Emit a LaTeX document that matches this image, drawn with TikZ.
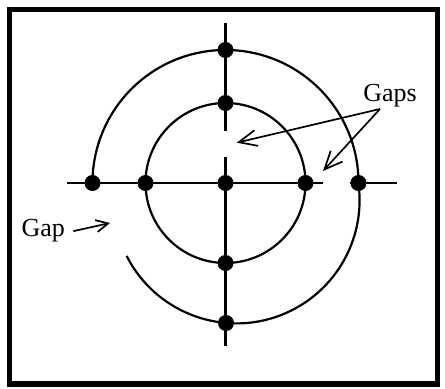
\documentclass[tikz,border=0pt]{standalone}
\usepackage{fontspec}
\setmainfont{Liberation Serif}
\usetikzlibrary{arrows.meta}
\tikzset{
  punto/.style={circle, fill=black, inner sep=0pt, minimum size=8pt},
  eje/.style={line width=1.1pt},
  curva/.style={line width=1.1pt},
  marco/.style={line width=2.75pt},
  flecha/.style={line width=0.85pt, -{Straight Barb[length=9pt,width=8pt]}},
  flechachica/.style={line width=0.85pt, -{Straight Barb[length=6pt,width=6pt]}},
  rotulo/.style={font=\fontsize{13}{15}\selectfont, anchor=base, inner sep=0pt}
}

\begin{document}
\begin{tikzpicture}[x=0.5pt,y=0.5pt]
  \useasboundingbox (0,0) rectangle (445,389);
  \draw [marco] (9.3,5) rectangle (437.7,379.5);
  % ejes, con sus cortes
  \coordinate (arr) at (225.5,366);
  \coordinate (corte1) at (225.5,258);
  \coordinate (corte2) at (225.5,232);
  \coordinate (aba) at (225.5,43);
  \coordinate (izq) at (67,206);
  \coordinate (corte3) at (323,206);
  \coordinate (corte4) at (350,206);
  \coordinate (der) at (397,206);
  \draw [eje] (arr) -- (corte1); \draw [eje] (corte2) -- (aba);
  \draw [eje] (izq) -- (corte3); \draw [eje] (corte4) -- (der);
  % circulos
  \draw [curva] (225.5,206) circle [radius=80];
  \draw [curva] (92.5,206) arc [start angle=180, end angle=0, radius=133];
  \draw [curva] (126.7,133) arc [start angle=206.9, end angle=367.8, radius=123.1];
  % puntos
  \node (c0) [punto] at (225.5,206) {};
  \node (i1) [punto] at (225.5,286) {};
  \node (i2) [punto] at (145.5,206) {};
  \node (i3) [punto] at (225.5,126) {};
  \node (i4) [punto] at (305.5,206) {};
  \node (e1) [punto] at (225.5,339) {};
  \node (e2) [punto] at (92.5,206) {};
  \node (e3) [punto] at (226,66) {};
  \node (e4) [punto] at (358.5,206) {};
  % rotulos
  \node (gaps) [rotulo] at (390,287.3) {Gaps};
  \node (gap) [rotulo] at (43.3,152) {Gap};
  \coordinate (cola) at (380,280);
  \coordinate (h1) at (236.7,246.3);
  \coordinate (h2) at (323,218);
  \coordinate (h3) at (110,166);
  \draw [flecha] (cola) -- (h1);
  \draw [flecha] (cola) -- (h2);
  \draw [flechachica] ([xshift=4pt]gap.east) -- (h3);
\end{tikzpicture}
\end{document}
